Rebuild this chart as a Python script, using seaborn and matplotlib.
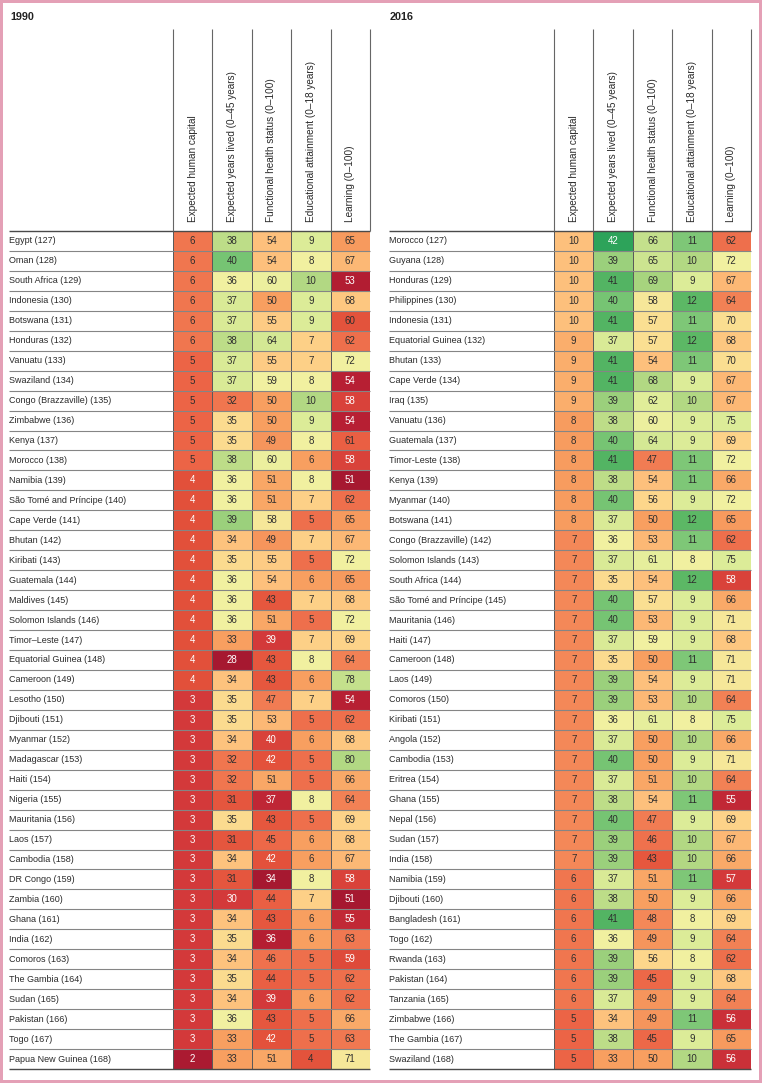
import numpy as np
import pandas as pd
import matplotlib.pyplot as plt
import seaborn as sns
from matplotlib.colors import LinearSegmentedColormap

sns.set_style('white')
plt.rcParams['font.family'] = ['Liberation Sans', 'DejaVu Sans']

columns = ['Expected human capital', 'Expected years lived (0–45 years)',
           'Functional health status (0–100)', 'Educational attainment (0–18 years)',
           'Learning (0–100)']

# ---- 1990 ----
countries_1990 = ['Egypt (127)', 'Oman (128)', 'South Africa (129)', 'Indonesia (130)', 'Botswana (131)',
                  'Honduras (132)', 'Vanuatu (133)', 'Swaziland (134)', 'Congo (Brazzaville) (135)',
                  'Zimbabwe (136)', 'Kenya (137)', 'Morocco (138)', 'Namibia (139)',
                  'São Tomé and Príncipe (140)', 'Cape Verde (141)', 'Bhutan (142)', 'Kiribati (143)',
                  'Guatemala (144)', 'Maldives (145)', 'Solomon Islands (146)', 'Timor–Leste (147)',
                  'Equatorial Guinea (148)', 'Cameroon (149)', 'Lesotho (150)', 'Djibouti (151)',
                  'Myanmar (152)', 'Madagascar (153)', 'Haiti (154)', 'Nigeria (155)', 'Mauritania (156)',
                  'Laos (157)', 'Cambodia (158)', 'DR Congo (159)', 'Zambia (160)', 'Ghana (161)',
                  'India (162)', 'Comoros (163)', 'The Gambia (164)', 'Sudan (165)', 'Pakistan (166)',
                  'Togo (167)', 'Papua New Guinea (168)']
hc_1990 = [6, 6, 6, 6, 6, 6, 5, 5, 5, 5, 5, 5, 4, 4, 4, 4, 4, 4, 4, 4, 4, 4, 4,
           3, 3, 3, 3, 3, 3, 3, 3, 3, 3, 3, 3, 3, 3, 3, 3, 3, 3, 2]
years_1990 = [38, 40, 36, 37, 37, 38, 37, 37, 32, 35, 35, 38, 36, 36, 39, 34, 35, 36, 36, 36, 33, 28, 34,
              35, 35, 34, 32, 32, 31, 35, 31, 34, 31, 30, 34, 35, 34, 35, 34, 36, 33, 33]
health_1990 = [54, 54, 60, 50, 55, 64, 55, 59, 50, 50, 49, 60, 51, 51, 58, 49, 55, 54, 43, 51, 39, 43, 43,
               47, 53, 40, 42, 51, 37, 43, 45, 42, 34, 44, 43, 36, 46, 44, 39, 43, 42, 51]
educ_1990 = [9, 8, 10, 9, 9, 7, 7, 8, 10, 9, 8, 6, 8, 7, 5, 7, 5, 6, 7, 5, 7, 8, 6,
             7, 5, 6, 5, 5, 8, 5, 6, 6, 8, 7, 6, 6, 5, 5, 6, 5, 5, 4]
learn_1990 = [65, 67, 53, 68, 60, 62, 72, 54, 58, 54, 61, 58, 51, 62, 65, 67, 72, 65, 68, 72, 69, 64, 78,
              54, 62, 68, 80, 66, 64, 69, 68, 67, 58, 51, 55, 63, 59, 62, 62, 66, 63, 71]

# ---- 2016 ----
countries_2016 = ['Morocco (127)', 'Guyana (128)', 'Honduras (129)', 'Philippines (130)', 'Indonesia (131)',
                  'Equatorial Guinea (132)', 'Bhutan (133)', 'Cape Verde (134)', 'Iraq (135)',
                  'Vanuatu (136)', 'Guatemala (137)', 'Timor-Leste (138)', 'Kenya (139)', 'Myanmar (140)',
                  'Botswana (141)', 'Congo (Brazzaville) (142)', 'Solomon Islands (143)',
                  'South Africa (144)', 'São Tomé and Príncipe (145)', 'Mauritania (146)', 'Haiti (147)',
                  'Cameroon (148)', 'Laos (149)', 'Comoros (150)', 'Kiribati (151)', 'Angola (152)',
                  'Cambodia (153)', 'Eritrea (154)', 'Ghana (155)', 'Nepal (156)', 'Sudan (157)',
                  'India (158)', 'Namibia (159)', 'Djibouti (160)', 'Bangladesh (161)', 'Togo (162)',
                  'Rwanda (163)', 'Pakistan (164)', 'Tanzania (165)', 'Zimbabwe (166)',
                  'The Gambia (167)', 'Swaziland (168)']
hc_2016 = [10, 10, 10, 10, 10, 9, 9, 9, 9, 8, 8, 8, 8, 8, 8, 7, 7, 7, 7, 7, 7, 7, 7, 7, 7, 7, 7, 7,
           7, 7, 7, 7, 6, 6, 6, 6, 6, 6, 6, 5, 5, 5]
years_2016 = [42, 39, 41, 40, 41, 37, 41, 41, 39, 38, 40, 41, 38, 40, 37, 36, 37, 35, 40, 40, 37, 35, 39,
              39, 36, 37, 40, 37, 38, 40, 39, 39, 37, 38, 41, 36, 39, 39, 37, 34, 38, 33]
health_2016 = [66, 65, 69, 58, 57, 57, 54, 68, 62, 60, 64, 47, 54, 56, 50, 53, 61, 54, 57, 53, 59, 50, 54,
               53, 61, 50, 50, 51, 54, 47, 46, 43, 51, 50, 48, 49, 56, 45, 49, 49, 45, 50]
educ_2016 = [11, 10, 9, 12, 11, 12, 11, 9, 10, 9, 9, 11, 11, 9, 12, 11, 8, 12, 9, 9, 9, 11, 9,
             10, 8, 10, 9, 10, 11, 9, 10, 10, 11, 9, 8, 9, 8, 9, 9, 11, 9, 10]
learn_2016 = [62, 72, 67, 64, 70, 68, 70, 67, 67, 75, 69, 72, 66, 72, 65, 62, 75, 58, 66, 71, 68, 71, 71,
              64, 75, 66, 71, 64, 55, 69, 67, 66, 57, 66, 69, 64, 62, 68, 64, 56, 65, 56]

df_1990 = pd.DataFrame(dict(zip(columns, [hc_1990, years_1990, health_1990, educ_1990, learn_1990])),
                       index=countries_1990)
df_2016 = pd.DataFrame(dict(zip(columns, [hc_2016, years_2016, health_2016, educ_2016, learn_2016])),
                       index=countries_2016)

# colour scale (red -> yellow -> green), each indicator has its own anchors
cmap = LinearSegmentedColormap.from_list('hcap', [
    (0.00, '#a3172f'), (0.05, '#b81f33'), (0.10, '#d43a3a'), (0.15, '#e2503a'),
    (0.20, '#ec6446'), (0.25, '#f28055'), (0.30, '#f8a060'), (0.36, '#fdc07c'),
    (0.42, '#fdd88c'), (0.50, '#f2f0a0'), (0.56, '#dcec98'), (0.62, '#c4e08c'),
    (0.68, '#a8d47e'), (0.75, '#80c878'), (0.82, '#5cb865'), (0.90, '#2ea45a'),
    (1.00, '#13854a')])

anchors = [
    ([2, 3, 4, 5, 10, 15, 25], [0.02, 0.10, 0.15, 0.20, 0.36, 0.50, 1.0]),
    ([28, 30, 36, 42, 45], [0.01, 0.10, 0.50, 0.90, 1.0]),
    ([34, 39, 43, 50, 54, 59, 64, 69, 90], [0.01, 0.10, 0.17, 0.30, 0.36, 0.50, 0.58, 0.68, 1.0]),
    ([4, 5, 6, 7, 8, 9, 10, 11, 12, 18], [0.16, 0.22, 0.30, 0.40, 0.50, 0.56, 0.66, 0.75, 0.82, 1.0]),
    ([51, 54, 57, 60, 62, 64, 65, 67, 72, 75, 80, 95],
     [0.01, 0.05, 0.10, 0.16, 0.22, 0.25, 0.29, 0.345, 0.50, 0.56, 0.66, 1.0]),
]


def to_pos(df):
    out = df.astype(float).copy()
    for c, (v, p) in zip(columns, anchors):
        out[c] = np.interp(df[c].values, v, p)
    return out


W, H = 762, 1083
fig = plt.figure(figsize=(W / 100, H / 100), dpi=100)
fig.patch.set_edgecolor('#e4a0b6')
fig.patch.set_linewidth(3)

top_px, bot_px = 231, 1069
hdr_top = 29
col_w = 197 / 5
row_h = (bot_px - top_px) / 42


def draw_panel(x0, lab_x, title, df):
    ax = fig.add_axes([x0 / W, 1 - bot_px / H, 197 / W, (bot_px - top_px) / H])
    pos = to_pos(df)
    sns.heatmap(pos, ax=ax, cmap=cmap, vmin=0, vmax=1, cbar=False,
                annot=df.values, fmt='d', annot_kws={'fontsize': 7.0},
                linewidths=0.6, linecolor='#5a5a5a')
    for t in ax.texts:
        x, y = t.get_position()
        p = pos.values[int(y), int(x)]
        t.set_color('white' if (p < 0.16 or p > 0.86) else '#2e2e2e')

    ax.xaxis.tick_top()
    ax.set_xticks(np.arange(5) + 0.5)
    ax.set_xticklabels(columns, rotation=90, ha='center', va='bottom', fontsize=7.2, color='#2a2a2a')
    ax.set_yticks(np.arange(len(df)) + 0.5)
    ax.set_yticklabels(df.index, rotation=0, ha='left', fontsize=6.5, color='#2a2a2a')
    lab_pad = x0 - lab_x
    ax.tick_params(axis='x', length=0, pad=6.5)
    ax.tick_params(axis='y', length=0, pad=lab_pad * 0.72)
    ax.set_xlabel('')
    ax.set_ylabel('')

    lab_w = lab_pad / col_w
    ax.hlines(np.arange(1, len(df)), -lab_w, 5, colors='#858585', lw=0.8, clip_on=False)
    ax.hlines([0, len(df)], -lab_w, 5, colors='#4a4a4a', lw=1.0, clip_on=False)
    ax.vlines(np.arange(6), -(top_px - hdr_top) / row_h, 0, colors='#666666', lw=0.8, clip_on=False)

    fig.text((lab_x + 1) / W, 1 - 20 / H, title, fontsize=7.8, fontweight='bold',
             color='#222222', va='baseline')


draw_panel(173, 9, '1990', df_1990)
draw_panel(554, 389, '2016', df_2016)

fig.savefig('out.png', dpi=100)
